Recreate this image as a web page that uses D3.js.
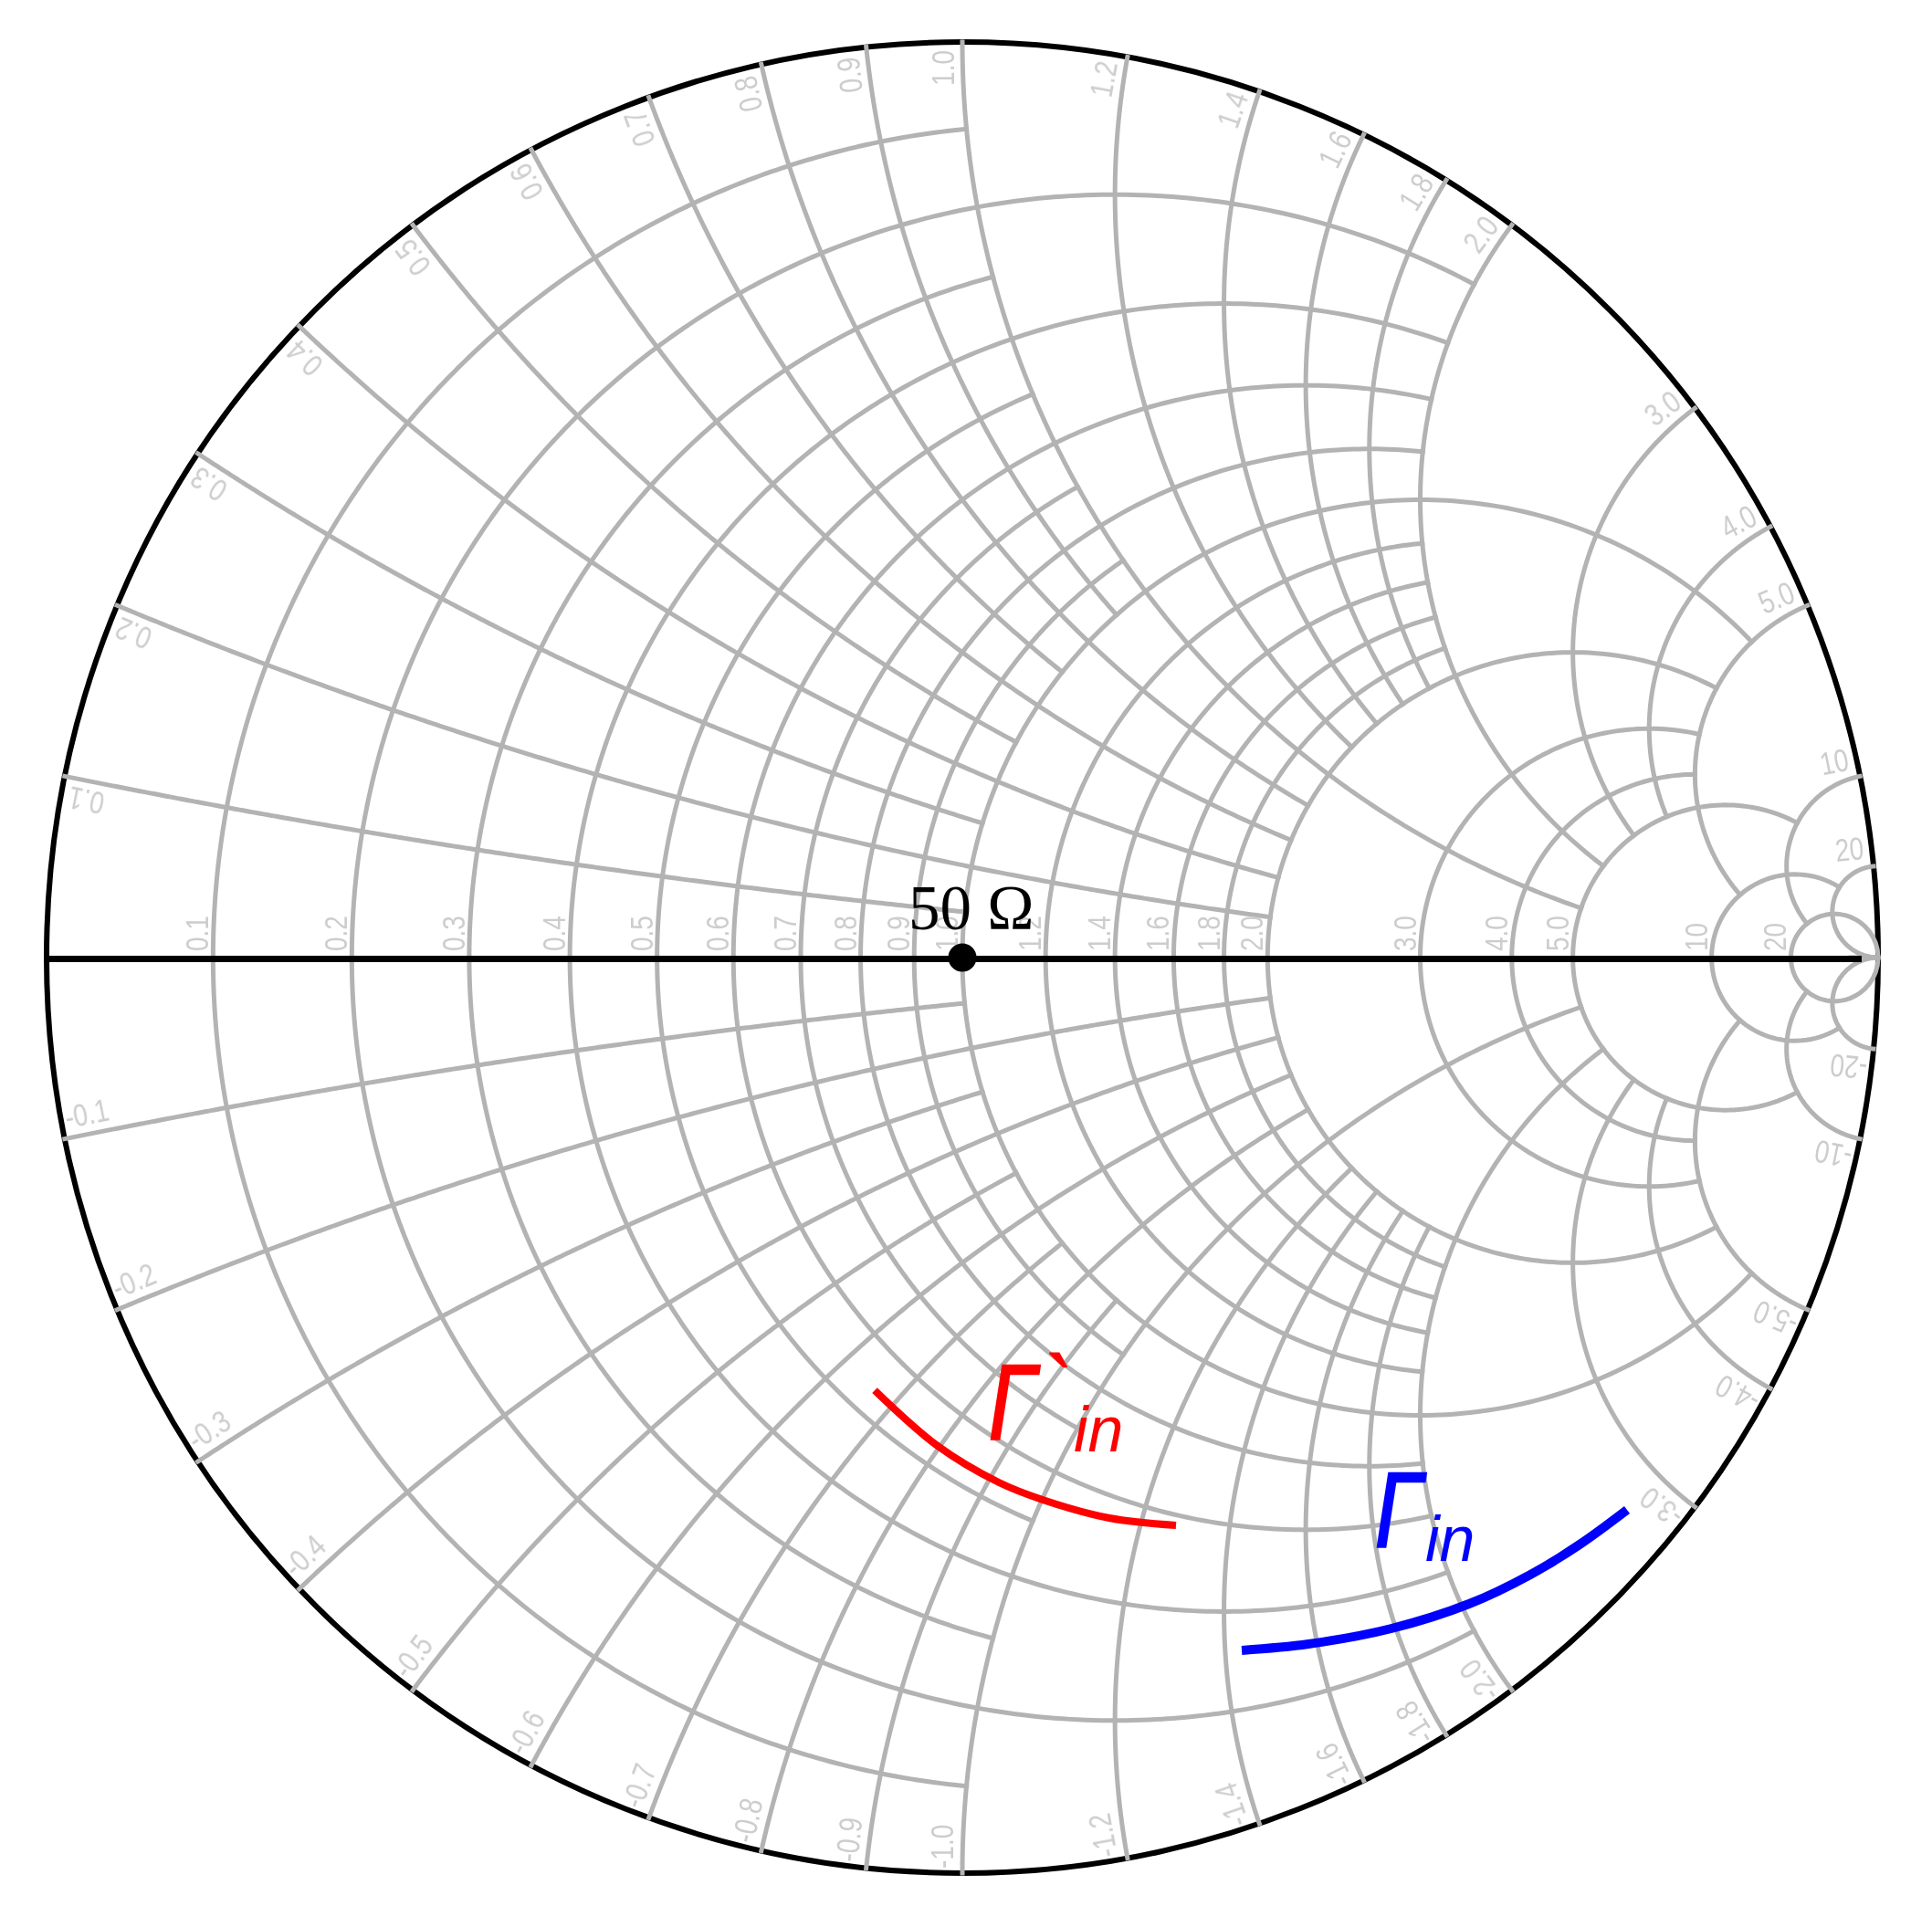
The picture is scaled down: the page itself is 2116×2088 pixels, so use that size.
<!DOCTYPE html>
<html>
<head>
<meta charset="utf-8">
<style>html,body{margin:0;padding:0;background:#fff}svg{display:block}</style>
<script src="https://cdn.jsdelivr.net/npm/d3@7/dist/d3.min.js"></script>
</head>
<body>
<svg id="chart" width="2116" height="2088"></svg>
<script>
// Grid values (normalised resistance / reactance) and where each arc stops
const gridValues = [0.1,0.2,0.3,0.4,0.5,0.6,0.7,0.8,0.9,1,1.2,1.4,1.6,1.8,2,3,4,5,10,20];
const gridLimits = [1,2,1,2,1,2,1,2,1,5,2,2,2,2,5,5,5,10,20,Infinity];
const gridLabels = ["0.1","0.2","0.3","0.4","0.5","0.6","0.7","0.8","0.9","1.0","1.2","1.4","1.6","1.8","2.0","3.0","4.0","5.0","10","20"];
// Traces, read as reflection coefficient (real, imaginary)
const gammaPrimeRe = [-0.0957,-0.0269,0.0399,0.0877,0.1605,0.2333];
const gammaPrimeIm = [-0.4726,-0.5334,-0.5733,-0.5922,-0.6122,-0.6202];
const gammaRe = [0.3051,0.3779,0.4686,0.5533,0.6201,0.6740,0.7258];
const gammaIm = [-0.7567,-0.7498,-0.7328,-0.7059,-0.6740,-0.6411,-0.6032];

const cx = 1054, cy = 1049, R = 1003;
const sx = d3.scaleLinear().domain([-1,1]).range([cx-R,cx+R]);
const sy = d3.scaleLinear().domain([-1,1]).range([cy+R,cy-R]);
const GRID = "#b3b3b3", LABEL = "#cdcdcd";

const gamma = (r,x) => {
  const d = (r+1)*(r+1)+x*x;
  return [(r*r+x*x-1)/d, 2*x/d];
};
// walks t over a bounded interval so that the arc is sampled evenly up to its limit
const warp = (limit,t) => {
  const U = limit === Infinity ? 0.9995 : limit/(1+limit);
  const u = U*t; return u/(1-u);
};
const path = d3.line().x(d=>sx(d[0])).y(d=>sy(d[1]));
const steps = d3.range(0,1.00001,1/260);

const svg = d3.select("#chart");
svg.append("rect").attr("width",2116).attr("height",2088).attr("fill","#fff");
const defs = svg.append("defs");
defs.append("filter").attr("id","soft").append("feGaussianBlur").attr("stdDeviation",0.7);

// outer rim
svg.append("circle").attr("cx",sx(0)).attr("cy",sy(0)).attr("r",R)
  .attr("fill","none").attr("stroke","#000").attr("stroke-width",6);

const grid = svg.append("g").attr("fill","none").attr("stroke",GRID)
  .attr("stroke-width",5).attr("stroke-linecap","square");

gridValues.forEach((v,i)=>{
  const lim = gridLimits[i];
  // constant resistance arc, both signs of reactance
  grid.append("path").attr("d",path(steps.map(t=>gamma(v,warp(lim,t)))));
  grid.append("path").attr("d",path(steps.map(t=>gamma(v,-warp(lim,t)))));
  // constant reactance arcs
  grid.append("path").attr("d",path(steps.map(t=>gamma(warp(lim,t),v))));
  grid.append("path").attr("d",path(steps.map(t=>gamma(warp(lim,t),-v))));
});
grid.append("line").attr("x1",sx(0.97)).attr("x2",sx(1)).attr("y1",sy(0)).attr("y2",sy(0));

// real axis
svg.append("line").attr("x1",sx(-1)).attr("x2",sx(0.982)).attr("y1",sy(0)+1.5).attr("y2",sy(0)+1.5)
  .attr("stroke","#000").attr("stroke-width",7);

// axis labels for resistance circles
const labels = svg.append("g").attr("font-family","'Liberation Sans',Arial,sans-serif")
  .attr("font-size",28).attr("fill",LABEL).attr("filter","url(#soft)");
gridValues.forEach((v,i)=>{
  const g = gamma(v,0);
  labels.append("text").text(gridLabels[i])
    .attr("transform",`translate(${sx(g[0])-5},${sy(0)-7}) rotate(-90) scale(1,1.25)`);
});
// rim labels for reactance arcs
gridValues.forEach((v,i)=>{
  const g = gamma(0,v);
  const th = Math.atan2(g[1],g[0])*180/Math.PI;
  const px = sx(g[0]), py = sy(g[1]);
  labels.append("text").text(gridLabels[i]).attr("text-anchor","end")
    .attr("transform",`translate(${px},${py}) rotate(${-th}) translate(-9,-9) scale(1,1.25)`);
  labels.append("text").text("-"+gridLabels[i]).attr("text-anchor","start")
    .attr("transform",`translate(${px},${sy(-g[1])}) rotate(${-(180-th)}) translate(5,-10) scale(1,1.25)`);
});

// centre point and label
svg.append("circle").attr("cx",sx(0)).attr("cy",sy(0)).attr("r",15.5).attr("fill","#000");
svg.append("text").text("50 Ω").attr("x",995).attr("y",1018)
  .attr("font-family","'Liberation Serif','Times New Roman',serif").attr("font-size",69).attr("fill","#000");

// traces
const trace = d3.line().x(d=>sx(d[0])).y(d=>sy(d[1])).curve(d3.curveCatmullRom);
svg.append("path").attr("d",trace(d3.zip(gammaPrimeRe,gammaPrimeIm)))
  .attr("fill","none").attr("stroke","#ff0000").attr("stroke-width",8);
svg.append("path").attr("d",trace(d3.zip(gammaRe,gammaIm)))
  .attr("fill","none").attr("stroke","#0000ff").attr("stroke-width",10);

// trace labels
const tl = svg.append("g").attr("font-family","'Liberation Sans',Arial,sans-serif").attr("font-style","italic");
tl.append("text").text("Γ").attr("transform","translate(1083,1577) scale(0.84,1.06)").attr("font-size",110)
  .attr("fill","#ff0000").attr("stroke","#ff0000").attr("stroke-width",2.5);
tl.append("text").text("`").attr("x",1142).attr("y",1562).attr("font-size",110).attr("fill","#ff0000");
tl.append("text").text("in").attr("x",1176).attr("y",1590).attr("font-size",70).attr("fill","#ff0000");
tl.append("text").text("Γ").attr("transform","translate(1506,1695) scale(0.84,1.06)").attr("font-size",110)
  .attr("fill","#0000ff").attr("stroke","#0000ff").attr("stroke-width",2.5);
tl.append("text").text("in").attr("x",1561).attr("y",1710).attr("font-size",70).attr("fill","#0000ff");
</script>
</body>
</html>
